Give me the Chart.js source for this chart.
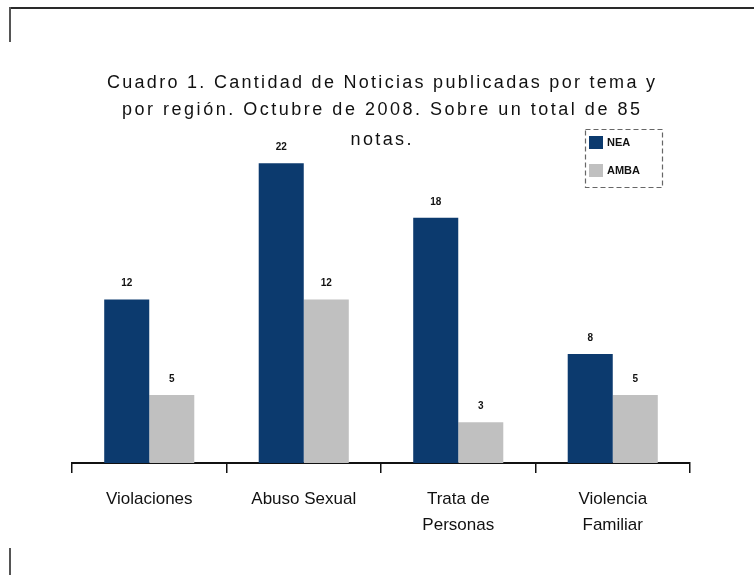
<!DOCTYPE html>
<html>
<head>
<meta charset="utf-8">
<script src="https://cdn.jsdelivr.net/npm/chart.js@4.4.0/dist/chart.umd.min.js"></script>
<style>
html,body{margin:0;padding:0;background:#fff;}
#wrap{position:relative;width:754px;height:575px;overflow:hidden;background:#fff;}
#c{position:absolute;left:0;top:0;}
.t{position:absolute;white-space:nowrap;font-family:"Liberation Sans",Arial,sans-serif;font-size:18px;line-height:20px;color:#111;}
.ln{position:absolute;background:#2a2a2a;}
</style>
</head>
<body>
<div id="wrap">
  <div class="ln" style="left:9px;top:7px;width:745px;height:2px;"></div>
  <div class="ln" style="left:9px;top:7px;width:2px;height:35px;background:#555;"></div>
  <div class="ln" style="left:9px;top:548px;width:2px;height:27px;background:#555;"></div>
  <canvas id="c" width="754" height="575"></canvas>
</div>
<script>
// ---- data ----
const categories = [["Violaciones"], ["Abuso Sexual"], ["Trata de", "Personas"], ["Violencia", "Familiar"]];
const seriesNames = ["NEA", "AMBA"];
const neaValues = [12, 22, 18, 8];
const ambaValues = [5, 12, 3, 5];
const titleLines = [
  "Cuadro 1. Cantidad de Noticias publicadas por tema y",
  "por región. Octubre de 2008. Sobre un total de 85",
  "notas."
];
const seriesColors = ["#0c3a6e", "#c0c0c0"];

// ---- title (HTML text) ----
const titleSpec = [
  {w: 548, base: 88},
  {w: 518, base: 115},
  {w: 61, base: 145}
];
const wrap = document.getElementById('wrap');
titleLines.forEach((txt, i) => {
  const s = document.createElement('span');
  s.className = 't';
  s.textContent = txt;
  wrap.appendChild(s);
  const w0 = s.getBoundingClientRect().width;
  const n = txt.length;
  const ls = (titleSpec[i].w - w0) / Math.max(1, n - 1);
  s.style.letterSpacing = ls + 'px';
  const w1 = s.getBoundingClientRect().width - ls;
  s.style.left = (381 - w1 / 2) + 'px';
  s.style.top = (titleSpec[i].base - 16.3) + 'px';
});

// ---- plugins ----
const valueLabels = {
  id: 'valueLabels',
  afterDatasetsDraw(chart) {
    const ctx = chart.ctx;
    ctx.save();
    ctx.font = 'bold 10px "Liberation Sans", Arial, sans-serif';
    ctx.fillStyle = '#111';
    ctx.textAlign = 'center';
    ctx.textBaseline = 'bottom';
    chart.data.datasets.forEach((ds, i) => {
      chart.getDatasetMeta(i).data.forEach((bar, j) => {
        ctx.fillText(String(ds.data[j]), bar.x, bar.y - 11);
      });
    });
    ctx.restore();
  }
};

const boxLegend = {
  id: 'boxLegend',
  afterDraw(chart) {
    const ctx = chart.ctx;
    ctx.save();
    ctx.setLineDash([5, 3]);
    ctx.strokeStyle = '#666';
    ctx.lineWidth = 1.2;
    ctx.strokeRect(585.5, 129.5, 77, 58);
    ctx.setLineDash([]);
    ctx.font = 'bold 11px "Liberation Sans", Arial, sans-serif';
    ctx.textBaseline = 'middle';
    ctx.textAlign = 'left';
    chart.data.datasets.forEach((ds, i) => {
      const y = 136 + i * 28;
      ctx.fillStyle = ds.backgroundColor;
      ctx.fillRect(589, y, 14, 13);
      ctx.fillStyle = '#111';
      ctx.fillText(ds.label, 607, y + 7);
    });
    ctx.restore();
  }
};

new Chart(document.getElementById('c'), {
  type: 'bar',
  data: {
    labels: categories,
    datasets: [
      {label: seriesNames[0], data: neaValues, backgroundColor: seriesColors[0]},
      {label: seriesNames[1], data: ambaValues, backgroundColor: seriesColors[1]}
    ]
  },
  options: {
    responsive: false,
    animation: false,
    devicePixelRatio: 1,
    barPercentage: 1,
    categoryPercentage: 0.583,
    layout: {padding: {left: 72, right: 64, top: 122.5, bottom: 0}},
    plugins: {legend: {display: false}, title: {display: false}, tooltip: {enabled: false}},
    scales: {
      x: {
        grid: {display: true, drawOnChartArea: false, drawTicks: true, tickLength: 10, color: '#111', lineWidth: 1.5, offset: true},
        border: {display: true, color: '#111', width: 2},
        ticks: {
          color: '#111',
          font: {family: '"Liberation Sans", Arial, sans-serif', size: 17, lineHeight: 1.5},
          padding: 14,
          maxRotation: 0,
          autoSkip: false
        },
        afterFit(scale) { scale.height = 112; }
      },
      y: {display: false, min: 0, max: 25}
    }
  },
  plugins: [valueLabels, boxLegend]
});
</script>
</body>
</html>
